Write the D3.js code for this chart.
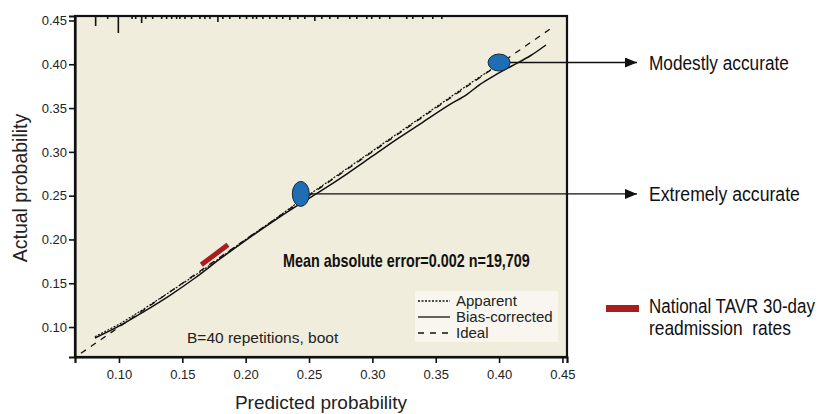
<!DOCTYPE html>
<html>
<head>
<meta charset="utf-8">
<script src="https://cdn.jsdelivr.net/npm/d3@7"></script>
<style>
  body { margin: 0; background: #fff; }
  svg { display: block; }
  .tick text { font-family: "Liberation Sans", sans-serif; font-size: 13px; fill: #222; }
</style>
</head>
<body>
<svg id="chart" width="818" height="414"></svg>
<script>
// tick values
let xTicks = [0.10, 0.15, 0.20, 0.25, 0.30, 0.35, 0.40, 0.45]
let yTicks = [0.10, 0.15, 0.20, 0.25, 0.30, 0.35, 0.40, 0.45]

// ideal line
let idealX = [0.07, 0.44]
let idealY = [0.07, 0.44]

// apparent calibration curve
let apparentX = [0.081, 0.10, 0.12, 0.14, 0.16, 0.18, 0.20, 0.22, 0.24, 0.26, 0.28, 0.30, 0.32, 0.34, 0.36, 0.38, 0.40]
let apparentY = [0.089, 0.103, 0.121, 0.140, 0.159, 0.179, 0.200, 0.220, 0.241, 0.261, 0.281, 0.301, 0.321, 0.341, 0.361, 0.381, 0.400]

// bias-corrected curve
let biasX = [0.081, 0.10, 0.12, 0.14, 0.16, 0.18, 0.20, 0.22, 0.24, 0.26, 0.28, 0.30, 0.32, 0.34, 0.36, 0.375, 0.385, 0.395, 0.41, 0.425, 0.437]
let biasY = [0.0875, 0.101, 0.118, 0.136, 0.156, 0.178, 0.199, 0.219, 0.238, 0.256, 0.275, 0.295, 0.315, 0.334, 0.353, 0.366, 0.377, 0.386, 0.398, 0.410, 0.422]

// rug of predicted values along top (relative frequency)
let rugX = [0.0816, 0.0911, 0.0995, 0.1103, 0.1132, 0.1179, 0.1211, 0.1266, 0.1337, 0.1376, 0.1416, 0.1455, 0.1481,
    0.1521, 0.1573, 0.1639, 0.1678, 0.1718, 0.1781, 0.1820, 0.1875, 0.1954, 0.2007, 0.2057, 0.2086, 0.2136, 0.2191,
    0.2244, 0.2293, 0.2349, 0.2412, 0.2467, 0.2546, 0.2601, 0.2664, 0.2727, 0.2822, 0.2877, 0.2956, 0.2995, 0.3058,
    0.3137, 0.3271, 0.3319, 0.3398, 0.3477, 0.3548]
let rugN = [10, 3, 17, 3, 3, 7, 3, 3, 3, 3, 3, 3, 3,
    3, 3, 3, 3, 3, 6, 3, 3, 3, 3, 3, 3, 3, 3,
    3, 3, 4, 3, 3, 5, 3, 3, 3, 3, 3, 3, 3, 3,
    3, 3, 3, 3, 3, 3]

// national TAVR readmission segment
let tavrX = [0.165, 0.186]
let tavrY = [0.171, 0.194]

// highlighted points
let markX = [0.40, 0.2435]
let markY = [0.402, 0.252]
let markLabel = ['Modestly accurate', 'Extremely accurate']

let legendLabels = ['Apparent', 'Bias-corrected', 'Ideal']

let svg = d3.select('#chart')
let plot = { left: 75, top: 16, right: 567, bottom: 357 }

let x = d3.scaleLinear().domain([0.0653, 0.4536]).range([plot.left, plot.right])
let y = d3.scaleLinear().domain([0.0658, 0.4551]).range([plot.bottom, plot.top])

// condensed text: no narrow font installed, so squeeze horizontally to a measured width
function narrowText(px, py, str, width, size, bold) {
    let t = svg.append('text')
        .attr('font-family', '"Liberation Sans", sans-serif')
        .attr('font-size', size)
        .attr('font-weight', bold ? 'bold' : null)
        .attr('fill', '#111')
        .style('white-space', 'pre')
        .text(str)
    let natural = t.node().getComputedTextLength()
    t.attr('transform', `translate(${px},${py}) scale(${width / natural},1)`)
    return t
}

// background
svg.append('rect')
    .attr('x', plot.left).attr('y', plot.top)
    .attr('width', plot.right - plot.left).attr('height', plot.bottom - plot.top)
    .attr('fill', '#f1eddc')

// rug
let rugLen = d3.scaleLinear().domain([0, 17]).range([0, 17])
svg.append('g').selectAll('line.rug')
    .data(rugX.map((v, i) => ({ v: v, n: rugN[i] })))
    .enter().append('line')
    .attr('class', 'rug')
    .attr('x1', d => x(d.v)).attr('x2', d => x(d.v))
    .attr('y1', plot.top).attr('y2', d => plot.top + rugLen(d.n))
    .attr('stroke', '#111').attr('stroke-width', 1.6)

// lines
let line = d3.line().x(d => x(d[0])).y(d => y(d[1]))
let zip = (a, b) => a.map((v, i) => [v, b[i]])

svg.append('path').datum(zip(idealX, idealY))
    .attr('d', line).attr('fill', 'none')
    .attr('stroke', '#111').attr('stroke-width', 1.3).attr('stroke-dasharray', '6,6')

svg.append('path').datum(zip(apparentX, apparentY))
    .attr('d', line).attr('fill', 'none')
    .attr('stroke', '#111').attr('stroke-width', 1.2).attr('stroke-dasharray', '2,1.5')

svg.append('path').datum(zip(biasX, biasY))
    .attr('d', d3.line().curve(d3.curveMonotoneX).x(d => x(d[0])).y(d => y(d[1])))
    .attr('fill', 'none')
    .attr('stroke', '#111').attr('stroke-width', 1.5)

// red TAVR segment
svg.append('line')
    .attr('x1', x(tavrX[0])).attr('y1', y(tavrY[0]))
    .attr('x2', x(tavrX[1])).attr('y2', y(tavrY[1]))
    .attr('stroke', '#a81e1e').attr('stroke-width', 5)

// arrow marker
svg.append('defs').append('marker')
    .attr('id', 'arrow')
    .attr('viewBox', '0 0 12 10')
    .attr('refX', 12).attr('refY', 5)
    .attr('markerWidth', 12).attr('markerHeight', 10)
    .attr('markerUnits', 'userSpaceOnUse')
    .attr('orient', 'auto')
    .append('path').attr('d', 'M0,0 L12,5 L0,10 Z').attr('fill', '#111')

// highlighted ellipses with callouts
let markShape = [{ rx: 11, ry: 8.5 }, { rx: 8.5, ry: 12.5 }]
let labelWidth = [140, 151]
let arrowTip = 637
markX.forEach((mx, i) => {
    let cx = x(mx), cy = y(markY[i])
    svg.append('line')
        .attr('x1', cx + markShape[i].rx).attr('y1', cy)
        .attr('x2', arrowTip).attr('y2', cy)
        .attr('stroke', '#111').attr('stroke-width', 1.3)
        .attr('marker-end', 'url(#arrow)')
    svg.append('ellipse')
        .attr('cx', cx).attr('cy', cy)
        .attr('rx', markShape[i].rx).attr('ry', markShape[i].ry)
        .attr('fill', '#1f6db5').attr('stroke', '#1a2a3a').attr('stroke-width', 1)
    narrowText(649, cy + 7, markLabel[i], labelWidth[i], 21)
})

// frame
svg.append('rect')
    .attr('x', plot.left).attr('y', plot.top)
    .attr('width', plot.right - plot.left).attr('height', plot.bottom - plot.top)
    .attr('fill', 'none').attr('stroke', '#111').attr('stroke-width', 2.2)

// axes
let fmt = d3.format('.2f')
let xAxis = svg.append('g')
    .attr('transform', `translate(0,${plot.bottom})`)
    .call(d3.axisBottom(x).tickValues(xTicks).tickFormat(fmt).tickSize(6).tickPadding(7))
let yAxis = svg.append('g')
    .attr('transform', `translate(${plot.left},0)`)
    .call(d3.axisLeft(y).tickValues(yTicks).tickFormat(fmt).tickSize(6).tickPadding(2))
;[xAxis, yAxis].forEach(a => {
    a.select('.domain').attr('stroke', '#111').attr('stroke-width', 2.2)
    a.selectAll('.tick line').attr('stroke', '#111').attr('stroke-width', 1.6)
})

// axis titles
svg.append('text')
    .attr('x', (plot.left + plot.right) / 2).attr('y', 409)
    .attr('text-anchor', 'middle')
    .attr('font-family', '"Liberation Sans", sans-serif').attr('font-size', 19).attr('fill', '#222')
    .text('Predicted probability')
svg.append('text')
    .attr('transform', 'translate(27,188) rotate(-90)')
    .attr('text-anchor', 'middle')
    .attr('font-family', '"Liberation Sans", sans-serif').attr('font-size', 19.5).attr('fill', '#222')
    .text('Actual probability')

// annotations inside plot
narrowText(283, 267, 'Mean absolute error=0.002 n=19,709', 247, 18, true)

svg.append('text')
    .attr('x', 187).attr('y', 343)
    .attr('font-family', '"Liberation Sans", sans-serif').attr('font-size', 15.5).attr('fill', '#222')
    .text('B=40 repetitions, boot')

// legend
let lg = svg.append('g').attr('transform', 'translate(415,291)')
lg.append('rect').attr('width', 143).attr('height', 51).attr('fill', '#f8f6ee')
let dashes = ['2,1.5', null, '6,6']
legendLabels.forEach((lab, i) => {
    let ly = 10 + i * 16
    lg.append('line')
        .attr('x1', 3).attr('x2', 35).attr('y1', ly).attr('y2', ly)
        .attr('stroke', '#111').attr('stroke-width', 1.3)
        .attr('stroke-dasharray', dashes[i])
    lg.append('text')
        .attr('x', 41).attr('y', ly + 5)
        .attr('font-family', '"Liberation Sans", sans-serif').attr('font-size', 15).attr('fill', '#222')
        .text(lab)
})

// TAVR legend outside
svg.append('line')
    .attr('x1', 606).attr('x2', 639).attr('y1', 308.5).attr('y2', 308.5)
    .attr('stroke', '#a81e1e').attr('stroke-width', 7)
narrowText(649, 313, 'National TAVR 30-day', 166, 21)
narrowText(649, 335, 'readmission  rates', 142, 21)
</script>
</body>
</html>
